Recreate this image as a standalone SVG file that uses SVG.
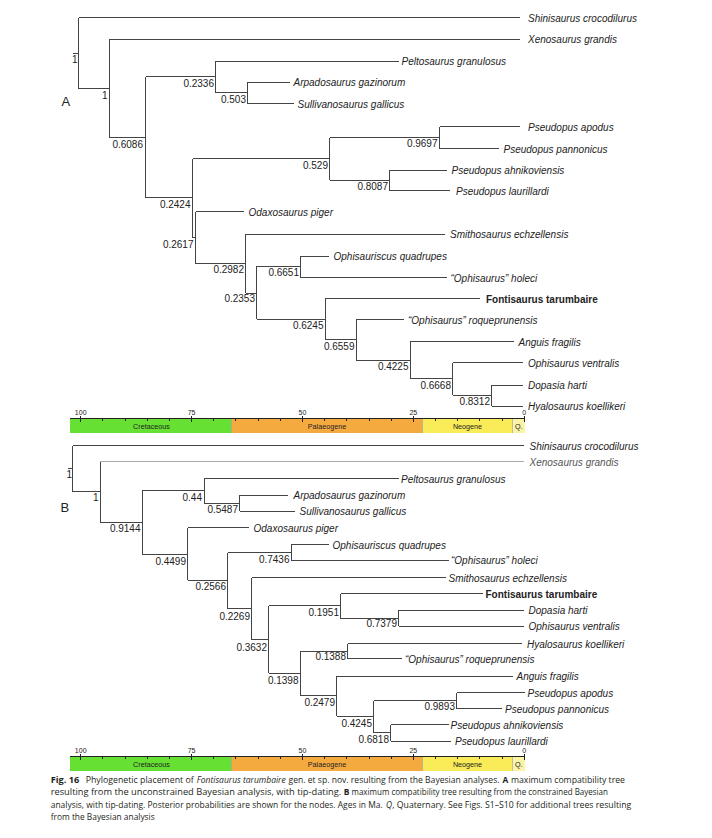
<svg xmlns="http://www.w3.org/2000/svg" width="712" height="838" viewBox="0 0 712 838">
<style>
.bg{fill:#ffffff}
.br{fill:none;stroke:#444;stroke-width:1}
.lt{stroke:#aaa}
.tip{font-family:"Liberation Sans",Arial,sans-serif;font-size:10px;font-style:italic;fill:#222}
.bold{font-weight:bold;font-style:normal}
.nl{font-family:"Liberation Sans",Arial,sans-serif;font-size:10px;fill:#222;text-anchor:end}
.tk{font-family:"Liberation Sans",Arial,sans-serif;font-size:7px;fill:#222;text-anchor:middle}
.per{font-family:"Liberation Sans",Arial,sans-serif;font-size:7.2px;fill:#222;text-anchor:middle}
.pl{font-family:"Liberation Sans",Arial,sans-serif;font-size:13px;fill:#222}
.ax{fill:none;stroke:#222;stroke-width:1}
.cap{font-family:"Open Sans","Noto Sans",sans-serif;font-size:8.4px;fill:#231f20}
.cb{font-weight:bold}
.ci{font-style:italic}
</style>
<rect class="bg" x="0" y="0" width="712" height="838"/>

<!-- ===== TREE A ===== -->
<text class="pl" x="61.5" y="105.5">A</text>
<g id="connectors-A" class="br" shape-rendering="crispEdges">
<path d="M73 53H78.5M78.5 17.5V88.5M78.5 17.5H520M78.5 88.5H109.5"/>
<path d="M109.5 39V137.5M109.5 39H520M109.5 137.5H145.5"/>
<path d="M145.5 76.5V197.5M145.5 76.5H215.5M145.5 197.5H192.5"/>
<path d="M215.5 61V92.5M215.5 61H398.5M215.5 92.5H247.5"/>
<path d="M247.5 82V103.5M247.5 82H289.5M247.5 103.5H293.5"/>
<path d="M192.5 158.5V237.5M192.5 158.5H329.5M192.5 237.5H195.5"/>
<path d="M329.5 137.5V180M329.5 137.5H439.5M329.5 180H389.5"/>
<path d="M439.5 126.5V148.5M439.5 126.5H520M439.5 148.5H498.5"/>
<path d="M389.5 170V190.5M389.5 170H447M389.5 190.5H450"/>
<path d="M195.5 211.5V263.5M195.5 211.5H243.5M195.5 263.5H245.5"/>
<path d="M245.5 234V293M245.5 234H445M245.5 293H256.5"/>
<path d="M256.5 266V319M256.5 266H300.5M256.5 319H325"/>
<path d="M300.5 256V277.5M300.5 256H328.5M300.5 277.5H446.5"/>
<path d="M325 298.5V339.5M325 298.5H480M325 339.5H356"/>
<path d="M356 319.5V360M356 319.5H403.5M356 360H410"/>
<path d="M410 341.5V378.5M410 341.5H513.5M410 378.5H452.5"/>
<path d="M452.5 362.5V395M452.5 362.5H522.5M452.5 395H491.5"/>
<path d="M491.5 385V406M491.5 385H522.5M491.5 406H522.5"/>
</g>
<g id="A-shinisaurus"><text class="tip" x="528" y="21.5">Shinisaurus crocodilurus</text></g>
<g id="A-xenosaurus"><text class="tip" x="528" y="43">Xenosaurus grandis</text></g>
<g id="A-peltosaurus"><text class="tip" x="401.5" y="65">Peltosaurus granulosus</text></g>
<g id="A-arpadosaurus"><text class="tip" x="293.5" y="86">Arpadosaurus gazinorum</text></g>
<g id="A-sullivanosaurus"><text class="tip" x="297.5" y="107.5">Sullivanosaurus gallicus</text></g>
<g id="A-p-apodus"><text class="tip" x="528" y="130.5">Pseudopus apodus</text></g>
<g id="A-p-pannonicus"><text class="tip" x="503.5" y="152.5">Pseudopus pannonicus</text></g>
<g id="A-p-ahnikoviensis"><text class="tip" x="451.5" y="174">Pseudopus ahnikoviensis</text></g>
<g id="A-p-laurillardi"><text class="tip" x="456" y="194.5">Pseudopus laurillardi</text></g>
<g id="A-odaxosaurus"><text class="tip" x="248.5" y="215.5">Odaxosaurus piger</text></g>
<g id="A-smithosaurus"><text class="tip" x="450" y="238">Smithosaurus echzellensis</text></g>
<g id="A-ophisauriscus"><text class="tip" x="333.5" y="260">Ophisauriscus quadrupes</text></g>
<g id="A-holeci"><text class="tip" x="450.5" y="281.5">“Ophisaurus” holeci</text></g>
<g id="A-fontisaurus"><text class="tip bold" x="486" y="302.5">Fontisaurus tarumbaire</text></g>
<g id="A-roqueprunensis"><text class="tip" x="408" y="323.5">“Ophisaurus” roqueprunensis</text></g>
<g id="A-anguis"><text class="tip" x="518.5" y="345.5">Anguis fragilis</text></g>
<g id="A-o-ventralis"><text class="tip" x="528" y="366.5">Ophisaurus ventralis</text></g>
<g id="A-dopasia"><text class="tip" x="528" y="389">Dopasia harti</text></g>
<g id="A-hyalosaurus"><text class="tip" x="528" y="410">Hyalosaurus koellikeri</text></g>
<g id="A-nodes">
<g id="A-n0"><text class="nl" x="77.5" y="63">1</text></g>
<g id="A-n1"><text class="nl" x="107.5" y="98.5">1</text></g>
<g id="A-n2"><text class="nl" x="143" y="148">0.6086</text></g>
<g id="A-n3"><text class="nl" x="214" y="86.5">0.2336</text></g>
<g id="A-n5"><text class="nl" x="246" y="102.5">0.503</text></g>
<g id="A-n4"><text class="nl" x="190.5" y="207.5">0.2424</text></g>
<g id="A-n6"><text class="nl" x="328" y="168.5">0.529</text></g>
<g id="A-n8"><text class="nl" x="437.5" y="146.5">0.9697</text></g>
<g id="A-n9"><text class="nl" x="388" y="189.5">0.8087</text></g>
<g id="A-n7"><text class="nl" x="193.5" y="247.5">0.2617</text></g>
<g id="A-n10"><text class="nl" x="244" y="272.5">0.2982</text></g>
<g id="A-n11"><text class="nl" x="255" y="302">0.2353</text></g>
<g id="A-n12"><text class="nl" x="299" y="275.5">0.6651</text></g>
<g id="A-n13"><text class="nl" x="323.5" y="328.5">0.6245</text></g>
<g id="A-n14"><text class="nl" x="354.5" y="349.5">0.6559</text></g>
<g id="A-n15"><text class="nl" x="408.5" y="369.5">0.4225</text></g>
<g id="A-n16"><text class="nl" x="451" y="388.5">0.6668</text></g>
<g id="A-n17"><text class="nl" x="490" y="404.5">0.8312</text></g>
</g>

<!-- timescale A -->
<g id="timescale-A">
<rect x="70" y="418" width="161.5" height="15" fill="#66e033"/>
<rect x="231.5" y="418" width="191" height="15" fill="#f5aa40"/>
<rect x="422.5" y="418" width="90" height="15" fill="#f9ec58"/>
<rect x="512.5" y="418" width="12.5" height="15" fill="#fbf3a6"/>
<path d="M231.5 418V433M422.5 418V433M512.5 418V433" stroke="#999" stroke-width="0.6" fill="none"/>
<path class="ax" shape-rendering="crispEdges" d="M70 418H525M80.7 416V421.5M191.6 416V421.5M302.5 416V421.5M413.3 416V421.5M524.2 416V421.5M102.8 418V420.5M125 418V420.5M147.2 418V420.5M169.4 418V420.5M213.8 418V420.5M235.9 418V420.5M258.1 418V420.5M280.3 418V420.5M324.6 418V420.5M346.8 418V420.5M369 418V420.5M391.2 418V420.5M435.5 418V420.5M457.7 418V420.5M479.9 418V420.5M502 418V420.5"/>
<text class="tk" x="80.7" y="415">100</text>
<text class="tk" x="191.6" y="415">75</text>
<text class="tk" x="302.5" y="415">50</text>
<text class="tk" x="413.3" y="415">25</text>
<text class="tk" x="524.2" y="415">0</text>
<text class="per" x="151.5" y="428.5">Cretaceous</text>
<text class="per" x="327" y="428.5">Palaeogene</text>
<text class="per" x="467.5" y="428.5">Neogene</text>
<text class="per" x="518.7" y="428.5">Q.</text>
</g>

<!-- ===== TREE B ===== -->
<text class="pl" x="60.5" y="511.5">B</text>
<g id="connectors-B" class="br" shape-rendering="crispEdges">
<path d="M67.5 468.5H72.5M72.5 445.5V491.5M72.5 445.5H524M72.5 491.5H100"/>
<path d="M100 461.5V522.5M100 522.5H142.5"/>
<path class="lt" d="M100 461.5H524"/>
<path d="M142.5 490V554.5M142.5 490H204M142.5 554.5H187.5"/>
<path d="M204 478.5V503.5M204 478.5H398.5M204 503.5H239.5"/>
<path d="M239.5 495V511M239.5 495H288M239.5 511H295"/>
<path d="M187.5 527.5V580M187.5 527.5H248.5M187.5 580H227.5"/>
<path d="M227.5 552.5V608.5M227.5 552.5H291M227.5 608.5H251.5"/>
<path d="M291 544.5V560M291 544.5H328.5M291 560H448.5"/>
<path d="M251.5 577.5V639.5M251.5 577.5H446M251.5 639.5H268.5"/>
<path d="M268.5 605.5V673M268.5 605.5H340.5M268.5 673H300"/>
<path d="M340.5 593.5V618.5M340.5 593.5H483M340.5 618.5H398.5"/>
<path d="M398.5 610V626M398.5 610H523.5M398.5 626H523.5"/>
<path d="M300 651V695M300 651H347.5M300 695H336.5"/>
<path d="M347.5 643.5V658.5M347.5 643.5H522M347.5 658.5H401.5"/>
<path d="M336.5 676V716M336.5 676H512.5M336.5 716H373.5"/>
<path d="M373.5 700.5V732.5M373.5 700.5H456.5M373.5 732.5H390.5"/>
<path d="M456.5 692.5V708.5M456.5 692.5H525M456.5 708.5H501.5"/>
<path d="M390.5 724.5V741M390.5 724.5H448.5M390.5 741H451"/>
</g>
<g id="B-shinisaurus"><text class="tip" x="529.5" y="449.5">Shinisaurus crocodilurus</text></g>
<g id="B-xenosaurus"><text class="tip" x="529.5" y="465.5" style="fill:#555">Xenosaurus grandis</text></g>
<g id="B-peltosaurus"><text class="tip" x="401" y="482.5">Peltosaurus granulosus</text></g>
<g id="B-arpadosaurus"><text class="tip" x="293.5" y="499">Arpadosaurus gazinorum</text></g>
<g id="B-sullivanosaurus"><text class="tip" x="299.5" y="515">Sullivanosaurus gallicus</text></g>
<g id="B-odaxosaurus"><text class="tip" x="253.5" y="531.5">Odaxosaurus piger</text></g>
<g id="B-ophisauriscus"><text class="tip" x="332.5" y="548.5">Ophisauriscus quadrupes</text></g>
<g id="B-holeci"><text class="tip" x="451" y="564">“Ophisaurus” holeci</text></g>
<g id="B-smithosaurus"><text class="tip" x="448.5" y="581.5">Smithosaurus echzellensis</text></g>
<g id="B-fontisaurus"><text class="tip bold" x="485.5" y="597.5">Fontisaurus tarumbaire</text></g>
<g id="B-dopasia"><text class="tip" x="528.5" y="614">Dopasia harti</text></g>
<g id="B-o-ventralis"><text class="tip" x="528.5" y="630">Ophisaurus ventralis</text></g>
<g id="B-hyalosaurus"><text class="tip" x="527" y="647.5">Hyalosaurus koellikeri</text></g>
<g id="B-roqueprunensis"><text class="tip" x="405" y="662.5">“Ophisaurus” roqueprunensis</text></g>
<g id="B-anguis"><text class="tip" x="516.5" y="680">Anguis fragilis</text></g>
<g id="B-p-apodus"><text class="tip" x="527.5" y="696.5">Pseudopus apodus</text></g>
<g id="B-p-pannonicus"><text class="tip" x="505" y="712.5">Pseudopus pannonicus</text></g>
<g id="B-p-ahnikoviensis"><text class="tip" x="450.5" y="728.5">Pseudopus ahnikoviensis</text></g>
<g id="B-p-laurillardi"><text class="tip" x="455" y="745">Pseudopus laurillardi</text></g>
<g id="B-nodes">
<g id="B-n0"><text class="nl" x="72" y="477.5">1</text></g>
<g id="B-n1"><text class="nl" x="98.5" y="501">1</text></g>
<g id="B-n2"><text class="nl" x="140.5" y="532">0.9144</text></g>
<g id="B-n3"><text class="nl" x="202" y="501">0.44</text></g>
<g id="B-n5"><text class="nl" x="238" y="513">0.5487</text></g>
<g id="B-n4"><text class="nl" x="186" y="564.5">0.4499</text></g>
<g id="B-n6"><text class="nl" x="226" y="590">0.2566</text></g>
<g id="B-n7"><text class="nl" x="289.5" y="562.5">0.7436</text></g>
<g id="B-n8"><text class="nl" x="250" y="619.5">0.2269</text></g>
<g id="B-n9"><text class="nl" x="267" y="650.5">0.3632</text></g>
<g id="B-n10"><text class="nl" x="339" y="615.5">0.1951</text></g>
<g id="B-n12"><text class="nl" x="397" y="627">0.7379</text></g>
<g id="B-n11"><text class="nl" x="298.5" y="683.5">0.1398</text></g>
<g id="B-n13"><text class="nl" x="346" y="660">0.1388</text></g>
<g id="B-n14"><text class="nl" x="335" y="706">0.2479</text></g>
<g id="B-n15"><text class="nl" x="372" y="727">0.4245</text></g>
<g id="B-n16"><text class="nl" x="455" y="710">0.9893</text></g>
<g id="B-n17"><text class="nl" x="389" y="743">0.6818</text></g>
</g>

<!-- timescale B -->
<g id="timescale-B">
<rect x="70" y="756" width="161.5" height="15" fill="#66e033"/>
<rect x="231.5" y="756" width="191" height="15" fill="#f5aa40"/>
<rect x="422.5" y="756" width="90" height="15" fill="#f9ec58"/>
<rect x="512.5" y="756" width="12.5" height="15" fill="#fbf3a6"/>
<path d="M231.5 756V771M422.5 756V771M512.5 756V771" stroke="#999" stroke-width="0.6" fill="none"/>
<path class="ax" shape-rendering="crispEdges" d="M70 756H525M80.7 754V759.5M191.6 754V759.5M302.5 754V759.5M413.3 754V759.5M524.2 754V759.5M102.8 756V758.5M125 756V758.5M147.2 756V758.5M169.4 756V758.5M213.8 756V758.5M235.9 756V758.5M258.1 756V758.5M280.3 756V758.5M324.6 756V758.5M346.8 756V758.5M369 756V758.5M391.2 756V758.5M435.5 756V758.5M457.7 756V758.5M479.9 756V758.5M502 756V758.5"/>
<text class="tk" x="80.7" y="753">100</text>
<text class="tk" x="191.6" y="753">75</text>
<text class="tk" x="302.5" y="753">50</text>
<text class="tk" x="413.3" y="753">25</text>
<text class="tk" x="524.2" y="753">0</text>
<text class="per" x="151.5" y="766.5">Cretaceous</text>
<text class="per" x="327" y="766.5">Palaeogene</text>
<text class="per" x="467.5" y="766.5">Neogene</text>
<text class="per" x="518.7" y="766.5">Q.</text>
</g>

<!-- caption -->
<g id="caption">
<text class="cap cb" x="50.7" y="782.5" textLength="28.6" lengthAdjust="spacingAndGlyphs">Fig. 16</text>
<text class="cap" x="85.7" y="782.5" textLength="108" lengthAdjust="spacingAndGlyphs">Phylogenetic placement of</text>
<text class="cap ci" x="196.7" y="782.5" textLength="89" lengthAdjust="spacingAndGlyphs">Fontisaurus tarumbaire</text>
<text class="cap" x="288.5" y="782.5" textLength="211" lengthAdjust="spacingAndGlyphs">gen. et sp. nov. resulting from the Bayesian analyses.</text>
<text class="cap cb" x="502.5" y="782.5">A</text>
<text class="cap" x="511" y="782.5" textLength="114" lengthAdjust="spacingAndGlyphs">maximum compatibility tree</text>
<text class="cap" x="50.7" y="795" textLength="290.5" lengthAdjust="spacingAndGlyphs">resulting from the unconstrained Bayesian analysis, with tip-dating.</text>
<text class="cap cb" x="343.8" y="795">B</text>
<text class="cap" x="351.5" y="795" textLength="256.5" lengthAdjust="spacingAndGlyphs">maximum compatibility tree resulting from the constrained Bayesian</text>
<text class="cap" x="50.7" y="807.5" textLength="332" lengthAdjust="spacingAndGlyphs">analysis, with tip-dating. Posterior probabilities are shown for the nodes. Ages in Ma.</text>
<text class="cap ci" x="386" y="807.5">Q</text>
<text class="cap" x="392.3" y="807.5" textLength="239" lengthAdjust="spacingAndGlyphs">, Quaternary. See Figs. S1–S10 for additional trees resulting</text>
<text class="cap" x="50.7" y="820" textLength="104" lengthAdjust="spacingAndGlyphs">from the Bayesian analysis</text>
</g>
</svg>
